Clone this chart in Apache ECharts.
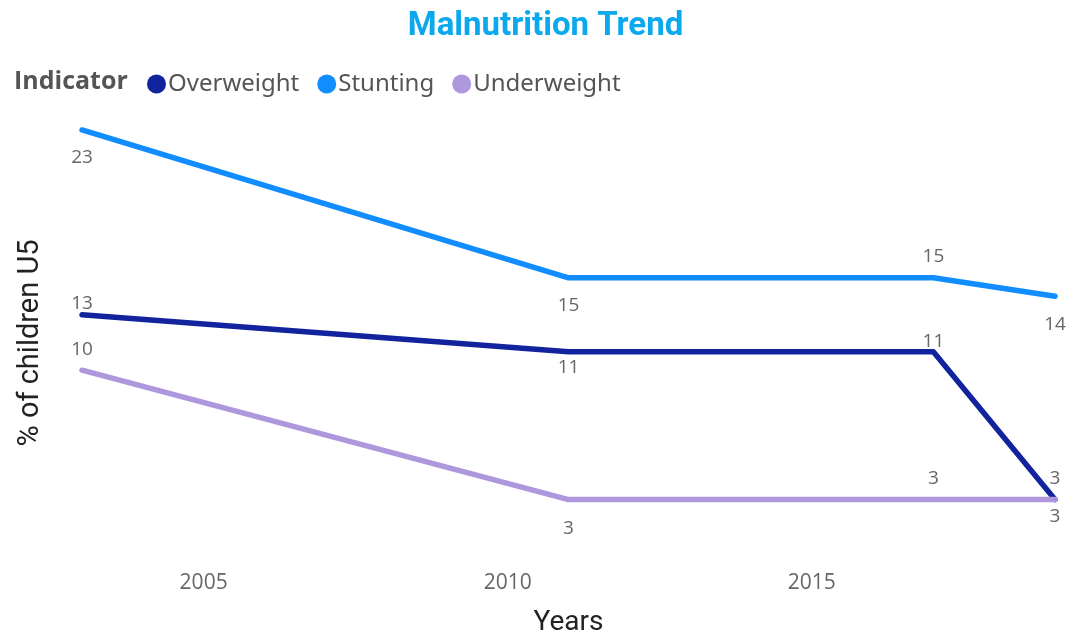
<!doctype html>
<html lang="en">
<head>
    <meta charset="utf-8">
    <title>Malnutrition Trend</title>
    <script src="https://cdn.jsdelivr.net/npm/echarts@6/dist/echarts.min.js"></script>
    <style>
        html, body { margin: 0; padding: 0; background: #fff; }
        #chart { width: 1091px; height: 634px; }
    </style>
</head>
<body>
    <div id="chart"></div>
    <script type="text/javascript">
        // data
        var years = [2003, 2011, 2017, 2019];
        var xTicks = [2005, 2010, 2015];
        var overweight = [13, 11, 11, 3];
        var stunting = [23, 15, 15, 14];
        var underweight = [10, 3, 3, 3];

        // label placement per point (top / bottom + distance)
        var overweightLbl = [['top', 1], ['bottom', 6], ['top', 0], ['top', 11]];
        var stuntingLbl = [['bottom', 18], ['bottom', 18], ['top', 11], ['bottom', 18]];
        var underweightLbl = [['top', 11], ['bottom', 19], ['top', 11], ['bottom', 7]];

        function pts(vals, lbl) {
            return vals.map(function (v, i) {
                return {
                    value: [years[i], v],
                    label: { position: lbl[i][0], distance: lbl[i][1] }
                };
            });
        }

        function line(name, color, vals, lbl) {
            return {
                name: name,
                type: 'line',
                data: pts(vals, lbl),
                symbol: 'circle',
                symbolSize: 1,
                lineStyle: { color: color, width: 5.5, cap: 'round', join: 'round' },
                itemStyle: { color: color },
                label: {
                    show: true,
                    color: '#666',
                    fontSize: 19,
                    fontFamily: 'Open Sans'
                },
                emphasis: { disabled: true },
                z: 3
            };
        }

        var chart = echarts.init(document.getElementById('chart'));
        var option = {
            animation: false,
            title: {
                text: 'Malnutrition Trend',
                left: 'center',
                top: 5,
                textStyle: {
                    color: '#0AA8EC',
                    fontSize: 33,
                    fontWeight: 'bold',
                    fontFamily: 'Roboto'
                }
            },
            graphic: [{
                type: 'text',
                left: 14,
                top: 69,
                style: {
                    text: 'Indicator',
                    fill: '#555',
                    font: 'bold 25px "Open Sans"'
                }
            }, {
                // y axis title, sits a bit below the plot middle in the reference
                type: 'text',
                x: 31,
                y: 343,
                rotation: Math.PI / 2,
                style: {
                    text: '% of children U5',
                    fill: '#222',
                    font: '29px Roboto',
                    textAlign: 'center',
                    textVerticalAlign: 'middle'
                }
            }],
            legend: {
                left: 142,
                top: 67,
                icon: 'circle',
                itemWidth: 19,
                itemHeight: 19,
                itemGap: 18,
                textStyle: { color: '#555', fontSize: 24, fontFamily: 'Noto Sans', padding: [0, 0, 0, -3] },
                data: ['Overweight', 'Stunting', 'Underweight']
            },
            grid: { left: 82, right: 36, top: 93, bottom: 79, outerBoundsMode: 'none', containLabel: false },
            xAxis: {
                type: 'value',
                min: 2003,
                max: 2019,
                name: 'Years',
                nameLocation: 'middle',
                nameGap: 54,
                nameTextStyle: { color: '#222', fontSize: 28, fontFamily: 'Roboto' },
                axisLine: { show: false },
                axisTick: { show: false },
                splitLine: { show: false },
                axisLabel: {
                    customValues: xTicks,
                    formatter: function (v) { return String(v); },
                    color: '#666',
                    fontSize: 21,
                    fontFamily: 'Open Sans',
                    margin: 18
                }
            },
            yAxis: {
                type: 'value',
                min: 0,
                max: 25,
                axisLine: { show: false },
                axisTick: { show: false },
                splitLine: { show: false },
                axisLabel: { show: false }
            },
            series: [
                line('Overweight', '#12239E', overweight, overweightLbl),
                line('Stunting', '#118DFF', stunting, stuntingLbl),
                line('Underweight', '#AE97DC', underweight, underweightLbl)
            ]
        };
        chart.setOption(option);
    </script>
</body>
</html>
